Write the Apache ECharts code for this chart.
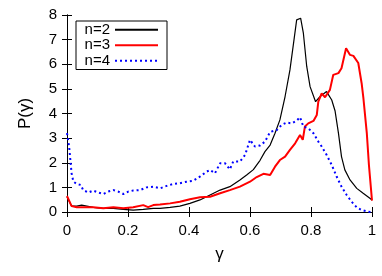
<!DOCTYPE html>
<html><head><meta charset="utf-8">
<script src="https://cdn.jsdelivr.net/npm/echarts@6/dist/echarts.min.js"></script>
<style>html,body{margin:0;padding:0;background:#fff}#c{width:382px;height:276px}</style>
</head><body><div id="c"></div>
<script>
var xTicks = ['0','0.2','0.4','0.6','0.8','1'];
var yTicks = ['0','1','2','3','4','5','6','7','8'];
var seriesNames = ['n=2','n=3','n=4'];
var n2 = [[0,0.62],[0.015,0.24],[0.032,0.24],[0.048,0.28],[0.065,0.24],[0.086,0.19],[0.119,0.15],[0.152,0.15],[0.185,0.11],[0.217,0.08],[0.25,0.11],[0.283,0.15],[0.305,0.15],[0.338,0.19],[0.37,0.24],[0.403,0.35],[0.436,0.49],[0.469,0.69],[0.502,0.89],[0.534,1.03],[0.567,1.3],[0.589,1.5],[0.611,1.72],[0.633,2.1],[0.649,2.45],[0.666,2.72],[0.682,3.2],[0.698,3.74],[0.715,4.69],[0.731,5.77],[0.745,7.06],[0.753,7.8],[0.758,7.88],[0.766,7.87],[0.775,7.26],[0.786,5.91],[0.797,5.09],[0.815,4.48],[0.83,4.69],[0.851,4.89],[0.868,4.55],[0.879,4.1],[0.89,3.2],[0.9,2.25],[0.911,1.71],[0.928,1.3],[0.95,0.96],[0.971,0.76],[0.993,0.56],[1.0,0.49]];
var n3 = [[0,0.65],[0.015,0.24],[0.032,0.19],[0.054,0.19],[0.086,0.19],[0.119,0.15],[0.152,0.19],[0.185,0.15],[0.217,0.19],[0.25,0.28],[0.266,0.2],[0.283,0.28],[0.305,0.3],[0.338,0.35],[0.37,0.42],[0.403,0.52],[0.436,0.6],[0.469,0.62],[0.502,0.76],[0.534,0.89],[0.567,1.03],[0.6,1.23],[0.622,1.42],[0.644,1.55],[0.666,1.5],[0.682,1.84],[0.698,2.11],[0.715,2.25],[0.731,2.52],[0.748,2.79],[0.764,3.13],[0.773,2.93],[0.78,3.47],[0.791,3.6],[0.808,3.7],[0.819,3.94],[0.824,4.48],[0.835,4.82],[0.846,4.66],[0.862,4.96],[0.873,5.57],[0.89,5.64],[0.9,5.84],[0.915,6.65],[0.928,6.38],[0.939,6.34],[0.955,6.05],[0.966,5.23],[0.972,4.6],[0.983,3.2],[0.99,1.9],[1.0,0.46]];
var n4 = [[0,3.2],[0.007,2.65],[0.012,1.98],[0.015,1.57],[0.021,1.23],[0.032,1.14],[0.045,1.1],[0.053,0.89],[0.07,0.79],[0.086,0.87],[0.103,0.79],[0.119,0.73],[0.135,0.83],[0.152,0.89],[0.168,0.83],[0.185,0.73],[0.201,0.83],[0.217,0.87],[0.239,0.89],[0.261,1.0],[0.283,1.03],[0.305,0.96],[0.327,1.06],[0.349,1.14],[0.37,1.17],[0.392,1.23],[0.414,1.27],[0.436,1.44],[0.458,1.64],[0.469,1.71],[0.485,1.57],[0.502,1.98],[0.518,1.98],[0.534,1.73],[0.545,2.05],[0.567,2.05],[0.584,2.32],[0.6,2.93],[0.616,2.66],[0.633,2.7],[0.649,2.86],[0.666,3.25],[0.688,3.33],[0.704,3.54],[0.72,3.63],[0.737,3.6],[0.753,3.71],[0.764,3.85],[0.775,3.47],[0.791,3.4],[0.808,3.2],[0.824,2.86],[0.835,2.66],[0.851,2.32],[0.868,1.91],[0.884,1.44],[0.9,1.03],[0.917,0.69],[0.933,0.42],[0.95,0.19],[0.966,0.08],[0.988,0.01],[1.0,0.0]];

var FONT = 'Liberation Sans, Arial, sans-serif';
var chart = echarts.init(document.getElementById('c'), null, {renderer:'canvas'});
var axisLine = {show:true, lineStyle:{color:'#000', width:1}};
var tick = {show:true, inside:true, length:5, lineStyle:{color:'#000', width:1}};
chart.setOption({
  animation:false,
  grid:{left:67, right:10, top:15, bottom:64, containLabel:false},
  legend:{
    orient:'vertical', left:76, top:21, align:'right',
    padding:[1,8,1,2], itemGap:0, itemWidth:43, itemHeight:15,
    borderColor:'#000', borderWidth:1, backgroundColor:'#fff',
    itemStyle:{opacity:0},
    textStyle:{fontFamily:FONT, fontSize:15, color:'#000', lineHeight:15.5, width:32},
    data:seriesNames
  },
  xAxis:[
    {type:'value', min:0, max:1, interval:0.2, position:'bottom',
     axisLine:axisLine, axisTick:tick, splitLine:{show:false},
     axisLabel:{margin:11, fontFamily:FONT, fontSize:15, color:'#000', formatter:function(v,i){return xTicks[i];}},
     name:'γ', nameLocation:'middle', nameGap:34, nameTextStyle:{fontFamily:FONT, fontSize:17, color:'#000'}},
    {type:'value', min:0, max:1, interval:0.2, position:'top',
     axisLine:axisLine, axisTick:tick, axisLabel:{show:false}, splitLine:{show:false}}
  ],
  yAxis:[
    {type:'value', min:0, max:8, interval:1, position:'left',
     axisLine:axisLine, axisTick:tick, splitLine:{show:false},
     axisLabel:{margin:10, fontFamily:FONT, fontSize:15, color:'#000', formatter:function(v,i){return yTicks[i];}},
     name:'P(γ)', nameLocation:'middle', nameRotate:90, nameGap:33, nameTextStyle:{fontFamily:FONT, fontSize:17, color:'#000'}},
    {type:'value', min:0, max:8, interval:1, position:'right',
     axisLine:axisLine, axisTick:tick, axisLabel:{show:false}, splitLine:{show:false}}
  ],
  series:[
    {name:seriesNames[0], type:'line', data:n2, symbol:'none', clip:true, color:'#000',
     lineStyle:{color:'#000', width:1.2}},
    {name:seriesNames[1], type:'line', data:n3, symbol:'none', clip:true, color:'#ff0000',
     lineStyle:{color:'#ff0000', width:2}},
    {name:seriesNames[2], type:'line', data:n4, symbol:'none', clip:true, color:'#0000ff',
     lineStyle:{color:'#0000ff', width:2, type:[2,3]}}
  ]
});
</script></body></html>
